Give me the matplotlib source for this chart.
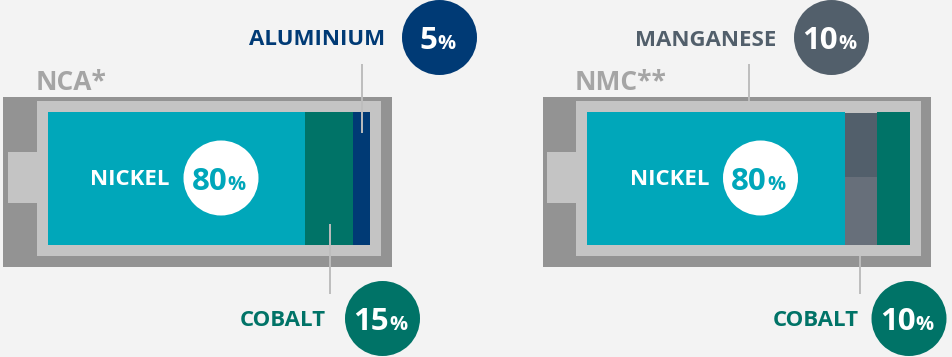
import matplotlib
matplotlib.use('Agg')
import matplotlib.pyplot as plt
from matplotlib.patches import Circle, Polygon, Rectangle

plt.rcParams['font.family'] = ['Open Sans', 'DejaVu Sans']

metals_nca = ['NICKEL', 'COBALT', 'ALUMINIUM']
shares_nca = [80, 15, 5]
metals_nmc = ['NICKEL', 'MANGANESE', 'COBALT']
shares_nmc = [80, 10, 10]

BG = '#f3f3f3'
SHELL = '#939393'
CASE = '#c4c4c4'
NICKEL = '#00a7ba'
COBALT = '#007367'
ALUMINIUM = '#003a75'
MANGANESE = '#525f6b'
MANGANESE_LOW = '#676f7a'
TITLE = '#a5a5a5'
LEADER = '#bdbdbd'

W, H = 952, 357
fig = plt.figure(figsize=(W / 100, H / 100), dpi=100, facecolor=BG)
ax = fig.add_axes([0, 0, 1, 1])
ax.set_xlim(0, W)
ax.set_ylim(H, 0)
ax.axis('off')


def battery(x0, x1, body_x, case_r, term_x):
    ax.add_patch(Rectangle((x0, 97), x1 - x0, 170, fc=SHELL, ec='none'))
    pts = [(body_x, 101), (case_r, 101), (case_r, 256), (body_x, 256),
           (body_x, 203), (term_x, 203), (term_x, 152), (body_x, 152)]
    ax.add_patch(Polygon(pts, fc=CASE, ec='none'))


def bar_axes(x0, x1):
    # stacked bar gets its own axes, 0-100 % across the cell
    b = fig.add_axes([x0 / W, 1 - 245 / H, (x1 - x0) / W, 133 / H])
    b.set_xlim(0, 100)
    b.set_ylim(0, 1)
    b.axis('off')
    return b


def percent(cx, cy, value, fc, fg, num_size=22.5, pct_size=14.5):
    ax.add_patch(Circle((cx, cy), 37.5, fc=fc, ec='none', zorder=5))
    # number and sign are set separately, the sign is smaller
    split = cx + (6.5 if value >= 10 else -2)
    base = cy + 11.5
    ax.text(split, base, str(value), color=fg, fontsize=num_size, fontweight='bold',
            ha='right', va='baseline', zorder=6)
    ax.text(split, base, '%', color=fg, fontsize=pct_size, fontweight='bold',
            ha='left', va='baseline', zorder=6)


def label(x, y, s, color):
    ax.text(x, y, s, color=color, fontsize=16, fontweight='bold',
            ha='right', va='baseline', zorder=6)


def leader(x, y0, y1):
    ax.plot([x, x], [y0, y1], color=LEADER, lw=1.4, solid_capstyle='butt', zorder=4)


# left cell
battery(3, 392, 36.5, 381, 7.5)
b1 = bar_axes(48, 369.55)
b1.barh(0.5, shares_nca[0], height=1, left=0, color=NICKEL)
b1.barh(0.5, shares_nca[1], height=1, left=shares_nca[0], color=COBALT)
b1.barh(0.5, shares_nca[2], height=1, left=shares_nca[0] + shares_nca[1], color=ALUMINIUM)

# right cell
battery(543, 931, 576, 921, 547)
b2 = bar_axes(587, 909.6)
b2.barh(0.5, shares_nmc[0], height=1, left=0, color=NICKEL)
b2.barh(0.255, shares_nmc[1], height=0.51, left=shares_nmc[0], color=MANGANESE_LOW)
b2.barh(0.75, shares_nmc[1], height=0.48, left=shares_nmc[0], color=MANGANESE)
b2.barh(0.5, shares_nmc[2], height=1, left=shares_nmc[0] + shares_nmc[1], color=COBALT)

# overlay for circles and callouts, above the bar axes
ax2 = fig.add_axes([0, 0, 1, 1], facecolor='none')
ax2.set_xlim(0, W)
ax2.set_ylim(H, 0)
ax2.axis('off')
ax = ax2

ax.text(35.5, 90, 'NCA*', color=TITLE, fontsize=19, fontweight='bold', ha='left', va='baseline')
ax.text(575, 90, 'NMC**', color=TITLE, fontsize=19, fontweight='bold', ha='left', va='baseline')

leader(362, 64, 133)
leader(330, 224, 293.5)
leader(748.5, 64, 101)
leader(860, 256, 293.5)

label(385, 45, metals_nca[2], ALUMINIUM)
percent(439.5, 37.5, shares_nca[2], ALUMINIUM, 'white')
label(326, 326, metals_nca[1], COBALT)
percent(382.5, 318.5, shares_nca[1], COBALT, 'white')
label(170, 185, metals_nca[0], 'white')
percent(221, 178, shares_nca[0], 'white', NICKEL)

label(776, 46, metals_nmc[1], MANGANESE)
percent(831.5, 37.5, shares_nmc[1], MANGANESE, 'white')
label(859, 326, metals_nmc[2], COBALT)
percent(909, 318.5, shares_nmc[2], COBALT, 'white')
label(709, 185, metals_nmc[0], 'white')
percent(760.5, 178, shares_nmc[0], 'white', NICKEL)

fig.savefig('out.png', dpi=100, facecolor=BG)
